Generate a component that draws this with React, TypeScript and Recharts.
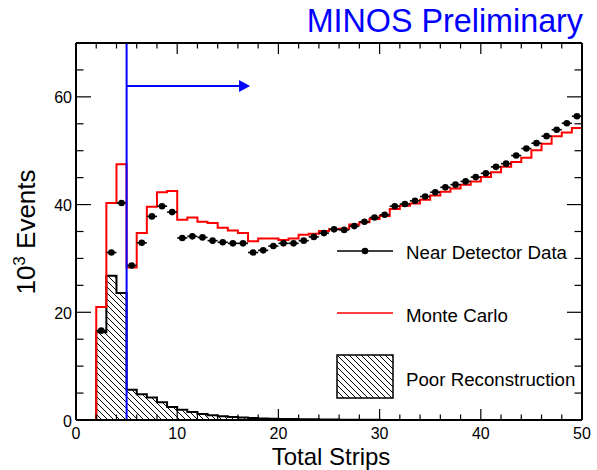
import React from 'react';
import { ComposedChart, Line, Area, Scatter, XAxis, YAxis, ReferenceLine, ErrorBar } from 'recharts';

// Bin low edges (1 strip wide bins)
const binLowEdges = [2,3,4,5,6,7,8,9,10,11,12,13,14,15,16,17,18,19,20,21,22,23,24,25,26,27,28,29,30,31,32,33,34,35,36,37,38,39,40,41,42,43,44,45,46,47,48,49];
// Monte Carlo (10^3 events)
const mcEvents = [21.0,40.3,47.5,28.3,34.7,39.6,42.3,42.5,37.2,37.6,36.8,36.6,35.7,35.2,34.7,33.2,33.7,33.7,33.4,33.7,34.4,34.6,35.1,35.4,35.5,36.3,36.7,37.3,37.9,39.2,39.8,40.2,40.9,41.7,42.4,43.0,43.7,44.3,45.1,46.0,47.0,47.9,48.7,50.1,51.3,52.7,53.4,54.2];
// Near Detector Data (10^3 events)
const dataEvents = [16.6,31.1,40.3,28.7,32.9,37.8,39.7,38.6,33.8,34.1,33.9,33.3,33.0,32.8,32.8,31.1,31.5,32.3,32.8,32.8,33.3,34.0,34.7,35.4,35.3,36.0,36.8,37.6,38.1,39.7,40.1,40.7,41.5,42.3,43.2,43.7,44.3,45.1,45.8,47.0,47.6,49.1,50.4,51.4,52.7,53.9,55.1,56.4];
// Poor Reconstruction (10^3 events)
const poorEvents = [16.3,26.8,23.6,5.6,4.8,4.2,3.3,2.4,1.9,1.5,1.1,0.9,0.7,0.55,0.45,0.35,0.3,0.25,0.2,0.18,0.15,0.12,0.1,0.08,0.06,0.05,0.04,0.03,0.02,0.02,0.01,0.01,0,0,0,0,0,0,0,0,0,0,0,0,0,0,0,0];
const binHalfWidth = 0.5;

const xTickValues = [0,2,4,6,8,10,12,14,16,18,20,22,24,26,28,30,32,34,36,38,40,42,44,46,48,50];
const xTickLabels = [0,10,20,30,40,50];
const yTickValues = [0,5,10,15,20,25,30,35,40,45,50,55,60,65,70];
const yTickLabels = [0,20,40,60];

const cutStrips = 5;
const arrowY = 62;
const arrowEnd = 17.2;

const lastMc = mcEvents[mcEvents.length - 1];
const lastPoor = poorEvents[poorEvents.length - 1];
const mcTable = [{ x: 0, v: 0 }, { x: 1, v: 0 }, ...binLowEdges.map((e, i) => ({ x: e, v: mcEvents[i] })), { x: 50, v: lastMc }];
const poorTable = [{ x: binLowEdges[0], v: 0 }, ...binLowEdges.map((e, i) => ({ x: e, v: poorEvents[i] })), { x: 50, v: lastPoor }];
const dataTable = binLowEdges.map((e, i) => ({ x: e + binHalfWidth, v: dataEvents[i], ex: binHalfWidth }));
const arrowTable = [{ x: arrowEnd, v: arrowY }];

const FONT = 'Liberation Sans, Arial, Helvetica, sans-serif';

const BottomTick = (props: any) => {
  const { x, y, payload } = props;
  const v = payload.value;
  const major = xTickLabels.includes(v);
  return (
    <g>
      <line x1={x} y1={y} x2={x} y2={y - (major ? 11 : 5.5)} stroke="#000" strokeWidth={1.2} />
      {major && (
        <text x={x} y={y + 18.5} textAnchor="middle" fontSize={16} fontFamily={FONT} fill="#000">{v}</text>
      )}
    </g>
  );
};

const TopTick = (props: any) => {
  const { x, y, payload } = props;
  const major = xTickLabels.includes(payload.value);
  return <line x1={x} y1={y} x2={x} y2={y + (major ? 11 : 5.5)} stroke="#000" strokeWidth={1.2} />;
};

const LeftTick = (props: any) => {
  const { x, y, payload } = props;
  const v = payload.value;
  const major = yTickLabels.includes(v);
  return (
    <g>
      <line x1={x} y1={y} x2={x + (major ? 15 : 7.5)} y2={y} stroke="#000" strokeWidth={1.2} />
      {major && (
        <text x={x - 4} y={y + 6.5} textAnchor="end" fontSize={16} fontFamily={FONT} fill="#000">{v}</text>
      )}
    </g>
  );
};

const RightTick = (props: any) => {
  const { x, y, payload } = props;
  const major = yTickLabels.includes(payload.value);
  return <line x1={x} y1={y} x2={x - (major ? 15 : 7.5)} y2={y} stroke="#000" strokeWidth={1.2} />;
};

const DataDot = (p: any) => <circle cx={p.cx} cy={p.cy} r={3.3} fill="#000" />;
const ArrowHead = (p: any) => (
  <polygon points={`${p.cx},${p.cy} ${p.cx - 11},${p.cy - 6} ${p.cx - 11},${p.cy + 6}`} fill="#0000ff" />
);

const axisLine = { stroke: '#000', strokeWidth: 2 };

export default function App() {
  return (
    <div style={{ position: 'absolute', left: 0, top: 0, width: 597, height: 470, background: '#fff' }}>
      <ComposedChart width={597} height={470} margin={{ top: 13, right: 5, bottom: 0, left: 0 }}>
        <defs>
          <pattern id="hatch" patternUnits="userSpaceOnUse" width="6" height="6">
            <path d="M0,0 L6,6 M-1,5 L1,7 M5,-1 L7,1" stroke="#000" strokeWidth="1" />
          </pattern>
        </defs>
        <XAxis xAxisId={0} dataKey="x" type="number" domain={[0, 50]} ticks={xTickValues} interval={0}
          orientation="bottom" height={50} tickSize={0} tickMargin={0} tick={<BottomTick />} axisLine={axisLine} allowDataOverflow />
        <XAxis xAxisId="top" dataKey="x" type="number" domain={[0, 50]} ticks={xTickValues} interval={0}
          orientation="top" height={30} tickSize={0} tickMargin={0} tick={<TopTick />} axisLine={axisLine} allowDataOverflow />
        <YAxis yAxisId={0} type="number" domain={[0, 70]} ticks={yTickValues} interval={0}
          orientation="left" width={76} tickSize={0} tickMargin={0} tick={<LeftTick />} axisLine={axisLine} allowDataOverflow />
        <YAxis yAxisId="right" type="number" domain={[0, 70]} ticks={yTickValues} interval={0}
          orientation="right" width={10} tickSize={0} tickMargin={0} tick={<RightTick />} axisLine={axisLine} allowDataOverflow />
        <Line data={mcTable} dataKey="v" type="stepAfter" stroke="#ff0000" strokeWidth={2} dot={false}
          activeDot={false} isAnimationActive={false} />
        <Area data={poorTable} dataKey="v" type="stepAfter" stroke="#000" strokeWidth={2} fill="url(#hatch)"
          fillOpacity={1} dot={false} activeDot={false} isAnimationActive={false} />
        <Scatter data={dataTable} dataKey="v" shape={DataDot} isAnimationActive={false}>
          <ErrorBar dataKey="ex" direction="x" width={0} stroke="#000" strokeWidth={1.6} />
        </Scatter>
        <ReferenceLine x={cutStrips} stroke="#0000ff" strokeWidth={2} />
        <ReferenceLine segment={[{ x: cutStrips, y: arrowY }, { x: arrowEnd - 1, y: arrowY }]} stroke="#0000ff" strokeWidth={2} />
        <Scatter data={arrowTable} dataKey="v" shape={ArrowHead} isAnimationActive={false} />
      </ComposedChart>
      <svg width={597} height={470} style={{ position: 'absolute', left: 0, top: 0, pointerEvents: 'none' }}>
        <defs>
          <pattern id="hatchLegend" patternUnits="userSpaceOnUse" width="6" height="6">
            <path d="M0,0 L6,6 M-1,5 L1,7 M5,-1 L7,1" stroke="#000" strokeWidth="1" />
          </pattern>
        </defs>
        <text x={583} y={32} textAnchor="end" fontSize={32.3} fontFamily={FONT} fill="#0000ff">MINOS Preliminary</text>
        <text x={331} y={464.5} textAnchor="middle" fontSize={24} fontFamily={FONT} fill="#000">Total Strips</text>
        <text transform="translate(35,232) rotate(-90)" textAnchor="middle" fontSize={26} fontFamily={FONT} fill="#000">
          10<tspan fontSize={17} dy={-10}>3</tspan><tspan dy={10}> Events</tspan>
        </text>
        {/* legend */}
        <line x1={337} y1={251} x2={393} y2={251} stroke="#000" strokeWidth={1.5} />
        <circle cx={365} cy={251} r={3.3} fill="#000" />
        <text x={406} y={259} fontSize={18.7} fontFamily={FONT} fill="#000">Near Detector Data</text>
        <line x1={337} y1={313} x2={393} y2={313} stroke="#ff0000" strokeWidth={1.5} />
        <text x={406} y={322} fontSize={18.7} fontFamily={FONT} fill="#000">Monte Carlo</text>
        <rect x={337} y={355} width={56} height={43} fill="url(#hatchLegend)" stroke="#000" strokeWidth={1.5} />
        <text x={406} y={385.5} fontSize={18.7} fontFamily={FONT} fill="#000">Poor Reconstruction</text>
      </svg>
    </div>
  );
}
